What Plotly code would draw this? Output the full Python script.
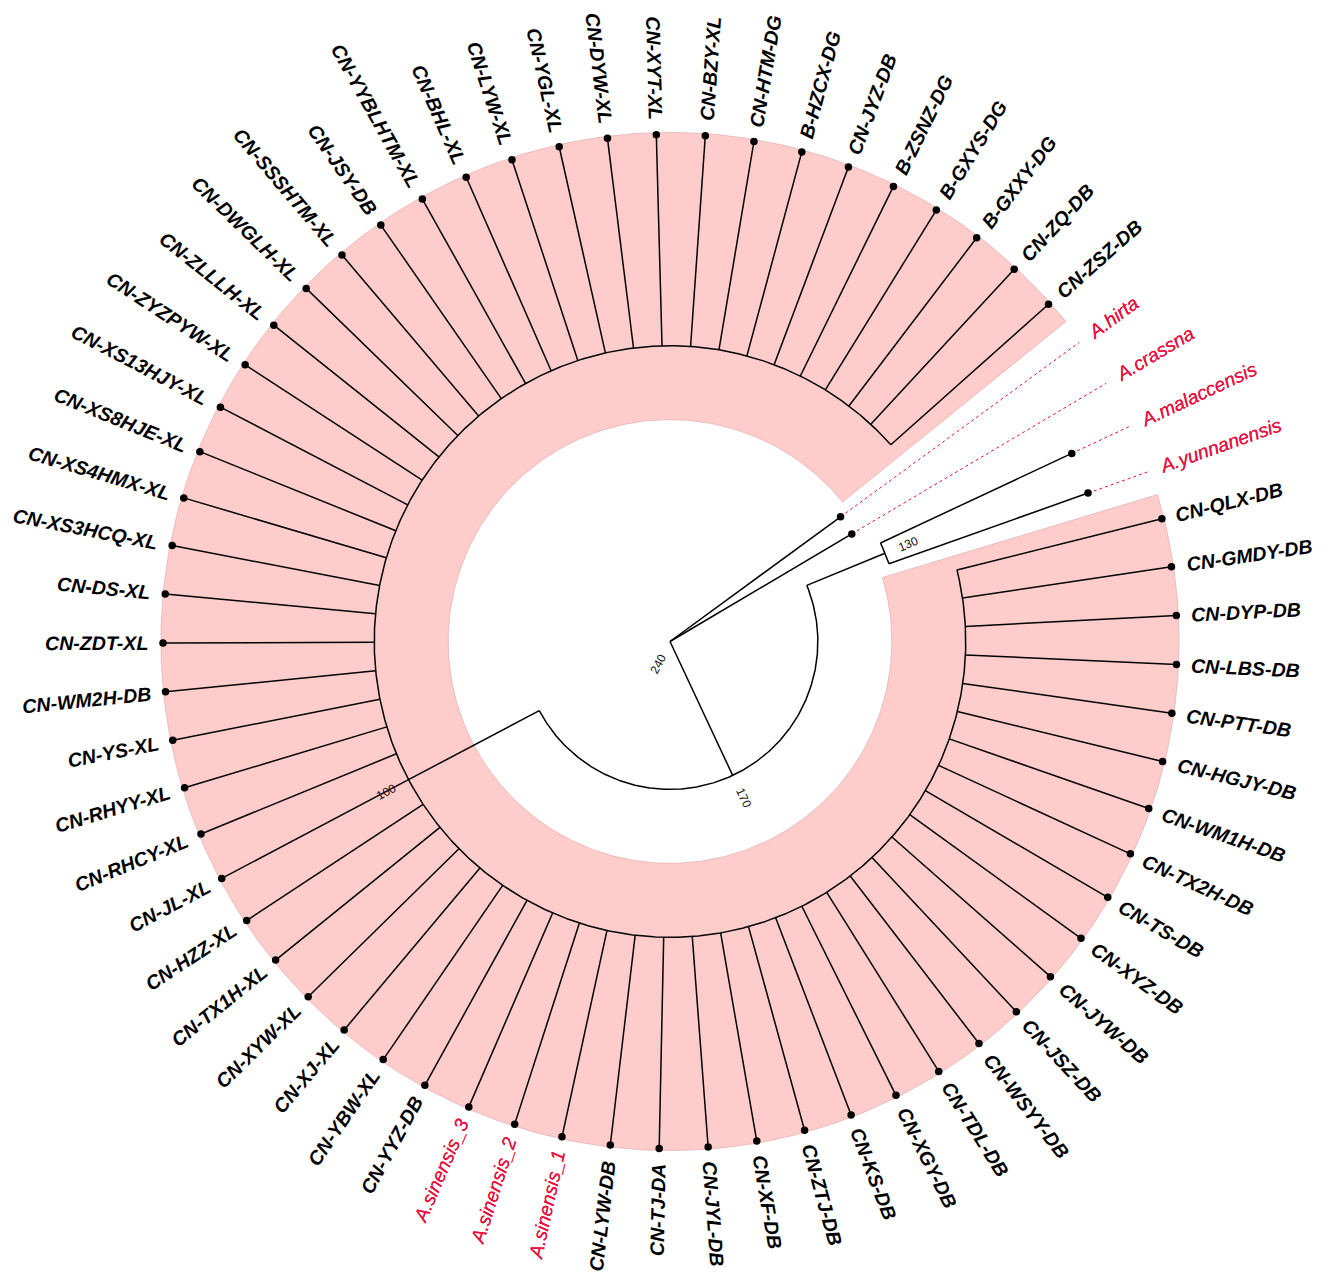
import numpy as np
import plotly.graph_objects as go

# ---------------------------------------------------------------- tree data
# Tip labels in counter-clockwise order around the circle
tips = [
    "CN-ZSZ-DB", "CN-ZQ-DB", "B-GXXY-DG", "B-GXYS-DG", "B-ZSNZ-DG", "CN-JYZ-DB",
    "B-HZCX-DG", "CN-HTM-DG", "CN-BZY-XL", "CN-XYT-XL", "CN-DYW-XL", "CN-YGL-XL",
    "CN-LYW-XL", "CN-BHL-XL", "CN-YYBLHTM-XL", "CN-JSY-DB", "CN-SSSHTM-XL",
    "CN-DWGLH-XL", "CN-ZLLLH-XL", "CN-ZYZPYW-XL", "CN-XS13HJY-XL", "CN-XS8HJE-XL",
    "CN-XS4HMX-XL", "CN-XS3HCQ-XL", "CN-DS-XL", "CN-ZDT-XL", "CN-WM2H-DB", "CN-YS-XL",
    "CN-RHYY-XL", "CN-RHCY-XL", "CN-JL-XL", "CN-HZZ-XL", "CN-TX1H-XL", "CN-XYW-XL",
    "CN-XJ-XL", "CN-YBW-XL", "CN-YYZ-DB", "A.sinensis_3", "A.sinensis_2", "A.sinensis_1",
    "CN-LYW-DB", "CN-TJ-DA", "CN-JYL-DB", "CN-XF-DB", "CN-ZTJ-DB", "CN-KS-DB",
    "CN-XGY-DB", "CN-TDL-DB", "CN-WSYY-DB", "CN-JSZ-DB", "CN-JYW-DB", "CN-XYZ-DB",
    "CN-TS-DB", "CN-TX2H-DB", "CN-WM1H-DB", "CN-HGJY-DB", "CN-PTT-DB", "CN-LBS-DB",
    "CN-DYP-DB", "CN-GMDY-DB", "CN-QLX-DB",
    "A.yunnanensis", "A.malaccensis", "A.crassna", "A.hirta",
]
ingroup = tips[:61]

# Internal nodes: label -> (node age, children)
root_age = 240
nodes = {
    "240": (240, ["A.hirta", "A.crassna", "170"]),
    "170": (170, ["130", "100"]),
    "130": (130, ["A.malaccensis", "A.yunnanensis"]),
    "100": (100, ingroup),
}
# Tip ages (all other tips are at age 0)
tip_ages = {"A.hirta": 140, "A.crassna": 140, "A.malaccensis": 30, "A.yunnanensis": 30}
highlight_node = "100"
red_tips = ["A.hirta", "A.crassna", "A.malaccensis", "A.yunnanensis",
            "A.sinensis_1", "A.sinensis_2", "A.sinensis_3"]

# ---------------------------------------------------------------- layout
W, H = 1334, 1274
PX = 2.1125                 # pixels per unit of age
CX, CY = 670.0, 641.5       # pixel position of the root
START = 41.7                # angle of the first tip (deg, counter-clockwise)
STEP = 360.0 / len(tips)
LABEL_GAP = 6.9             # gap between tip and label (age units)
FS_BLACK = 19.6             # tip label font sizes
FS_RED = 19.3
BLACK = "#000000"
RED = "#E8123F"
PINK = "#FFCCCC"

# Arial / Liberation Sans advance widths (per 1000 em)
BOLD_W = dict(zip("ABCDEFGHIJKLMNOPQRSTUVWXYZ",
                  [722, 722, 722, 722, 667, 611, 778, 722, 278, 556, 722, 611, 833,
                   722, 778, 667, 778, 722, 667, 611, 722, 667, 944, 667, 667, 611]))
BOLD_W.update(dict(zip("abcdefghijklmnopqrstuvwxyz",
                       [556, 611, 556, 611, 556, 333, 611, 611, 278, 278, 556, 278, 889,
                        611, 611, 611, 611, 389, 556, 333, 611, 556, 778, 556, 556, 500])))
REG_W = dict(zip("ABCDEFGHIJKLMNOPQRSTUVWXYZ",
                 [667, 667, 722, 722, 667, 611, 778, 722, 278, 500, 667, 556, 833,
                  722, 778, 667, 778, 722, 667, 611, 722, 667, 944, 667, 667, 611]))
REG_W.update(dict(zip("abcdefghijklmnopqrstuvwxyz",
                      [556, 556, 500, 556, 556, 278, 556, 556, 222, 222, 500, 222, 833,
                       556, 556, 556, 556, 333, 500, 278, 556, 500, 722, 500, 500, 500])))
for tbl in (BOLD_W, REG_W):
    tbl.update({c: 556 for c in "0123456789"})
    tbl.update({"-": 333, ".": 278, "_": 556, " ": 278})


def text_width(s, bold, size):
    tbl = BOLD_W if bold else REG_W
    return sum(tbl.get(c, 600) for c in s) / 1000.0 * size


def pol(r, a):
    t = np.deg2rad(a)
    return r * np.cos(t), r * np.sin(t)


# positions: angle and radius of every tip and node
angle, radius = {}, {}
for i, t in enumerate(tips):
    angle[t] = START + i * STEP
    radius[t] = root_age - tip_ages.get(t, 0)


def place(n):
    age, kids = nodes[n]
    for k in kids:
        if k in nodes:
            place(k)
    angle[n] = float(np.mean([angle[k] for k in kids]))
    radius[n] = root_age - age


place("240")

# ---------------------------------------------------------------- traces
fig = go.Figure()

# highlighted clade background
hr0 = radius[highlight_node] - (radius[highlight_node] - radius["170"]) / 2
hr1 = root_age + 1.0
ha0 = angle[ingroup[0]] - STEP / 2
ha1 = angle[ingroup[-1]] + STEP / 2
aa = np.linspace(ha0, ha1, 400)
ox, oy = pol(hr1, aa)
ix, iy = pol(hr0, aa[::-1])
fig.add_trace(go.Scatter(
    x=np.r_[ox, ix, ox[:1]], y=np.r_[oy, iy, oy[:1]], mode="lines", fill="toself",
    fillcolor=PINK, line=dict(color="#D9A8A8", width=0.6), hoverinfo="skip"))

# branches: radial segments + arcs
bx, by = [], []
for n, (age, kids) in nodes.items():
    rn = radius[n]
    ka = [angle[k] for k in kids]
    if rn > 0:
        arc = np.linspace(min(ka), max(ka), max(20, int(abs(max(ka) - min(ka)) * 3)))
        x, y = pol(rn, arc)
        bx += list(x) + [None]
        by += list(y) + [None]
    for k in kids:
        x0, y0 = pol(rn, angle[k])
        x1, y1 = pol(radius[k], angle[k])
        bx += [x0, x1, None]
        by += [y0, y1, None]
fig.add_trace(go.Scatter(x=bx, y=by, mode="lines", line=dict(color=BLACK, width=1.5),
                         hoverinfo="skip"))

# dotted guides from short tips to the label ring
dx, dy = [], []
for t in tips:
    if radius[t] < root_age:
        x0, y0 = pol(radius[t], angle[t])
        x1, y1 = pol(root_age, angle[t])
        dx += [x0, x1, None]
        dy += [y0, y1, None]
fig.add_trace(go.Scatter(x=dx, y=dy, mode="lines",
                         line=dict(color=RED, width=1, dash="dot"), hoverinfo="skip"))

# tip points
tx, ty = pol(np.array([radius[t] for t in tips]), np.array([angle[t] for t in tips]))
fig.add_trace(go.Scatter(x=tx, y=ty, mode="markers", text=tips,
                         marker=dict(color=BLACK, size=7.5)))

# ---------------------------------------------------------------- labels
annotations = []
for t in tips:
    red = t in red_tips
    bold = not red
    fs = FS_RED if red else FS_BLACK
    a = angle[t] % 360
    flip = np.cos(np.deg2rad(a)) < 0
    ta = (180 - a) if flip else -a
    ta = (ta + 180) % 360 - 180
    w = text_width(t, bold, fs) / PX
    cx, cy = pol(root_age + LABEL_GAP + w / 2, a)
    annotations.append(dict(
        x=cx, y=cy, xref="x", yref="y", text=t, showarrow=False,
        textangle=ta, xanchor="center", yanchor="middle", borderpad=0,
        font=dict(family="Liberation Sans, Arial, sans-serif", size=fs,
                  color=RED if red else BLACK,
                  weight="bold" if bold else "normal", style="italic",
                  shadow=("0px 0px 0.6px " + RED) if red else "none")))

# node age labels
ROOT_LABEL_ANGLE = 242
for n in nodes:
    if radius[n] == 0:
        a, r = ROOT_LABEL_ANGLE, 12
    else:
        a, r = angle[n] % 360, radius[n] + 12
    flip = np.cos(np.deg2rad(a)) < 0
    ta = (180 - a) if flip else -a
    ta = (ta + 180) % 360 - 180
    x, y = pol(r, a)
    annotations.append(dict(
        x=x, y=y, xref="x", yref="y", text=n, showarrow=False, textangle=ta,
        xanchor="center", yanchor="middle",
        font=dict(family="Liberation Sans, Arial, sans-serif", size=12, color="#111111")))

fig.update_layout(
    width=W, height=H, margin=dict(l=0, r=0, t=0, b=0),
    paper_bgcolor="white", plot_bgcolor="white", showlegend=False,
    annotations=annotations,
    xaxis=dict(range=[-CX / PX, (W - CX) / PX], visible=False, fixedrange=True),
    yaxis=dict(range=[-(H - CY) / PX, CY / PX], visible=False, fixedrange=True),
)

fig.write_html("out.html")
